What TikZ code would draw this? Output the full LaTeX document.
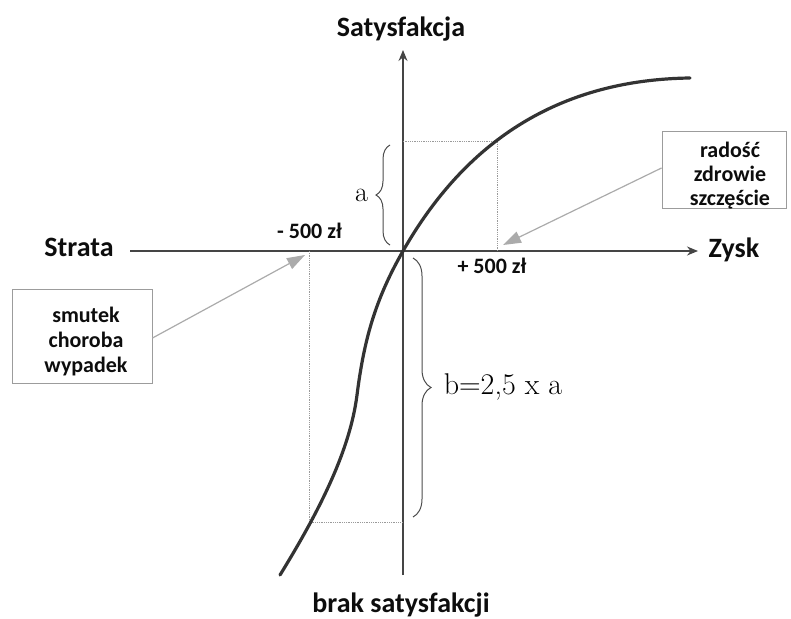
\documentclass[tikz,border=0pt]{standalone}
\usepackage{fontspec}
\newfontfamily\carl{Carlito}
\usetikzlibrary{arrows.meta,decorations.pathreplacing}
\definecolor{axisgray}{HTML}{454545}
\definecolor{curvegray}{HTML}{333333}
\definecolor{guidegray}{HTML}{9A9A9A}
\definecolor{pointgray}{HTML}{ABABAB}
\definecolor{boxgray}{HTML}{9C9C9C}
\begin{document}
\begin{tikzpicture}[x=1pt,y=-1pt,
  axis/.style={draw=axisgray, line width=1.3pt, -{Stealth[length=11pt,width=9pt]}},
  title/.style={font=\carl\bfseries\fontsize{28}{32}\selectfont, inner sep=0, anchor=base, text=black!95},
  small/.style={font=\carl\bfseries\fontsize{22}{25}\selectfont, inner sep=0, anchor=base, text=black!95},
  serif/.style={font=\fontsize{30}{34}\selectfont, inner sep=0, anchor=base, text=black},
  guide/.style={draw=guidegray, densely dotted, line width=0.8pt},
  curly/.style={draw=black!70, line width=1pt, decorate},
  infobox/.style={draw=boxgray, line width=1pt, inner sep=0},
  pointer/.style={draw=pointgray, line width=1.2pt, -{Triangle[length=18pt,width=12pt]}},
  curve/.style={draw=curvegray, line width=3.2pt, line cap=round}]
\useasboundingbox (0,0) rectangle (791,618);

% axes
\coordinate (xl) at (130,251);
\coordinate (xr) at (698,251);
\coordinate (yb) at (403,575);
\coordinate (yt) at (403,50);
\coordinate (o) at (403,251);
\draw[axis] (xl) -- (xr);
\draw[axis] (yb) -- (yt);

% guide lines
\coordinate (pp) at (497,251);
\coordinate (pq) at (497,141);
\coordinate (pa) at (403,141);
\coordinate (mp) at (309,251);
\coordinate (mq) at (309,522);
\coordinate (mb) at (403,522);
\draw[guide] (pp) -- (pq) -- (pa);
\draw[guide] (mp) -- (mq) -- (mb);

% value curve
\coordinate (cs) at (280,575);
\coordinate (cm) at (357,395);
\coordinate (ce) at (690,78);
\draw[curve] (cs) .. controls (320,510) and (350,450) .. (cm)
  .. controls (364,340) and (375,300) .. (o)
  .. controls (455,160) and (540,80) .. (ce);

% axis titles
\node[title] (sat) at (401,37) {Satysfakcja};
\node[title] (brak) at (401,612) {brak satysfakcji};
\node[title] (strata) at (79,256) {Strata};
\node[title] (zysk) at (734,257) {Zysk};
\node[small] (minus) at (309.5,238) {- 500 zł};
\node[small] (plus) at (492,273) {+ 500 zł};

% braces
\coordinate (ab) at (390,245);
\coordinate (at) at (390,145);
\draw[curly, decoration={brace, amplitude=14pt}] (ab) -- (at);
\node[serif, font=\fontsize{28}{32}\selectfont] (alab) at (361.5,201) {a};
\coordinate (bt) at (413,258);
\coordinate (bb) at (413,517);
\draw[curly, decoration={brace, amplitude=18pt}] (bt) -- (bb);
\node[serif] (blab) at (503,394) {b=2,5 x a};

% right box
\node[infobox, minimum width=124pt, minimum height=77pt] (rbox) at (724,169.5) {};
\node[small] (r1) at (730,157) {radość};
\node[small] (r2) at (730,181) {zdrowie};
\node[small] (r3) at (730,205) {szczęście};

% left box
\node[infobox, minimum width=140pt, minimum height=94pt] (lbox) at (82,336) {};
\node[small] (l1) at (86,322) {smutek};
\node[small] (l2) at (86,347) {choroba};
\node[small] (l3) at (86,372) {wypadek};

% pointers
\coordinate (ltip) at (305,255);
\coordinate (rtip) at (503,245);
\draw[pointer] (lbox.east |- 0,338) -- (ltip);
\draw[pointer] (rbox.west |- 0,168) -- (rtip);
\end{tikzpicture}
\end{document}
